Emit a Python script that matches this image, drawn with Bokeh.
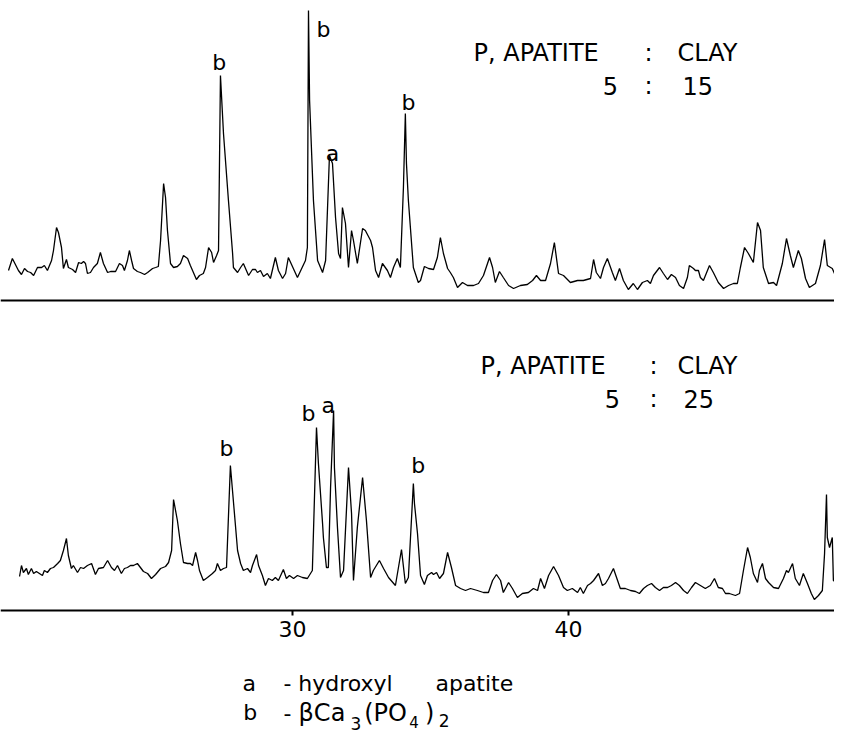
from bokeh.plotting import figure
from bokeh.models import Range1d, LinearAxis, FixedTicker, Span, Label
from bokeh.embed import file_html
from bokeh.resources import INLINE

# ---------------- data (2-theta in degrees, intensity in arbitrary units) ----------------
# Upper pattern: P. apatite : clay = 5 : 15
top_2theta = [19.71, 19.85, 19.96, 20.07, 20.18, 20.29, 20.40, 20.51, 20.62, 20.76, 20.91, 21.01,
              21.12, 21.27, 21.34, 21.45, 21.52, 21.63, 21.70, 21.81, 21.88, 22.03, 22.14, 22.25,
              22.35, 22.43, 22.50, 22.57, 22.68, 22.79, 22.93, 23.04, 23.15, 23.30, 23.41, 23.59,
              23.73, 23.84, 23.91, 24.02, 24.09, 24.17, 24.24, 24.38, 24.49, 24.64, 24.75, 24.93,
              25.04, 25.14, 25.22, 25.33, 25.40, 25.47, 25.58, 25.69, 25.83, 25.94, 26.05, 26.20,
              26.30, 26.41, 26.52, 26.63, 26.77, 26.85, 26.96, 27.07, 27.14, 27.25, 27.32, 27.39,
              27.50, 27.68, 27.83, 27.86, 28.01, 28.12, 28.22, 28.33, 28.41, 28.55, 28.66, 28.73,
              28.84, 28.95, 29.09, 29.20, 29.38, 29.49, 29.64, 29.75, 29.85, 30.18, 30.47, 30.54,
              30.58, 30.62, 30.76, 30.91, 31.09, 31.20, 31.34, 31.45, 31.56, 31.67, 31.74, 31.81,
              31.92, 32.03, 32.14, 32.21, 32.35, 32.54, 32.64, 32.83, 32.90, 33.01, 33.12, 33.26,
              33.44, 33.55, 33.66, 33.80, 33.91, 34.02, 34.09, 34.13, 34.20, 34.38, 34.56, 34.64,
              34.78, 34.93, 35.11, 35.25, 35.36, 35.47, 35.62, 35.72, 35.83, 35.98, 36.16, 36.34,
              36.56, 36.74, 36.92, 37.14, 37.25, 37.35, 37.50, 37.64, 37.83, 38.01, 38.26, 38.51,
              38.70, 38.84, 38.99, 39.17, 39.35, 39.49, 39.64, 39.82, 40.07, 40.33, 40.54, 40.80,
              40.91, 41.01, 41.16, 41.27, 41.41, 41.59, 41.70, 41.85, 41.99, 42.17, 42.35, 42.50,
              42.68, 42.86, 42.97, 43.08, 43.30, 43.44, 43.59, 43.73, 43.88, 44.02, 44.17, 44.31,
              44.38, 44.53, 44.60, 44.71, 44.78, 44.89, 45.11, 45.25, 45.43, 45.62, 45.80, 45.98,
              46.12, 46.23, 46.38, 46.52, 46.70, 46.85, 46.96, 47.06, 47.25, 47.43, 47.54, 47.75,
              47.90, 48.04, 48.15, 48.33, 48.44, 48.59, 48.73, 48.95, 49.13, 49.28, 49.38, 49.56,
              49.67, 49.78, 49.93]
top_counts = [30, 42, 36, 30, 26, 32, 29, 28, 25, 33, 33, 35,
              30, 40, 50, 73, 68, 53, 32, 41, 33, 31, 28, 38,
              37, 39, 37, 27, 28, 33, 37, 48, 37, 28, 29, 29,
              37, 35, 30, 40, 50, 40, 32, 29, 28, 26, 28, 32,
              33, 34, 60, 117, 103, 70, 37, 33, 34, 37, 45, 42,
              35, 28, 21, 25, 27, 33, 53, 48, 38, 45, 50, 225,
              167, 100, 47, 33, 28, 33, 37, 30, 25, 31, 31, 28,
              30, 24, 27, 22, 43, 30, 22, 27, 43, 23, 40, 53,
              290, 200, 100, 40, 28, 40, 145, 137, 83, 47, 42, 93,
              77, 33, 70, 60, 37, 72, 70, 60, 53, 30, 23, 37,
              30, 23, 33, 42, 33, 113, 187, 137, 100, 33, 18, 20,
              34, 32, 31, 43, 63, 47, 32, 28, 23, 13, 18, 15,
              15, 17, 25, 43, 33, 18, 29, 23, 15, 12, 15, 16,
              20, 25, 20, 20, 37, 58, 27, 25, 18, 20, 20, 22,
              41, 28, 22, 33, 42, 28, 20, 32, 20, 11, 17, 11,
              18, 20, 17, 25, 33, 27, 21, 26, 23, 15, 12, 23,
              35, 32, 30, 30, 23, 20, 35, 28, 18, 12, 15, 17,
              17, 33, 53, 47, 38, 78, 70, 33, 17, 18, 15, 37,
              62, 45, 33, 50, 42, 22, 13, 17, 35, 61, 35, 32,
              25, 18, 15]

# Lower pattern: P. apatite : clay = 5 : 25
bottom_2theta = [20.11, 20.18, 20.25, 20.36, 20.43, 20.54, 20.62, 20.72, 20.83, 20.94, 21.01, 21.12,
                 21.23, 21.34, 21.49, 21.59, 21.70, 21.81, 21.88, 21.99, 22.06, 22.21, 22.32, 22.43,
                 22.57, 22.72, 22.86, 22.97, 23.15, 23.30, 23.44, 23.55, 23.66, 23.80, 23.91, 24.02,
                 24.13, 24.24, 24.38, 24.49, 24.60, 24.75, 24.89, 25.04, 25.22, 25.40, 25.51, 25.62,
                 25.69, 25.83, 25.94, 26.05, 26.20, 26.30, 26.38, 26.49, 26.56, 26.63, 26.77, 26.92,
                 27.10, 27.21, 27.28, 27.39, 27.50, 27.61, 27.75, 28.01, 28.12, 28.22, 28.37, 28.48,
                 28.55, 28.70, 28.77, 28.91, 29.02, 29.13, 29.27, 29.38, 29.49, 29.67, 29.78, 29.89,
                 30.04, 30.18, 30.36, 30.54, 30.72, 30.87, 30.94, 31.09, 31.12, 31.23, 31.30, 31.38,
                 31.49, 31.52, 31.63, 31.74, 31.85, 32.03, 32.14, 32.21, 32.35, 32.54, 32.68, 32.83,
                 32.93, 33.15, 33.30, 33.48, 33.73, 33.95, 34.09, 34.20, 34.38, 34.42, 34.53, 34.64,
                 34.78, 34.89, 35.04, 35.11, 35.22, 35.33, 35.47, 35.62, 35.76, 35.91, 36.09, 36.27,
                 36.45, 36.70, 36.92, 37.10, 37.25, 37.39, 37.54, 37.64, 37.83, 37.97, 38.15, 38.33,
                 38.55, 38.73, 38.88, 38.99, 39.13, 39.28, 39.46, 39.64, 39.82, 39.96, 40.14, 40.33,
                 40.43, 40.54, 40.69, 40.80, 40.91, 41.09, 41.23, 41.34, 41.45, 41.63, 41.78, 41.88,
                 42.06, 42.25, 42.43, 42.57, 42.72, 42.86, 43.01, 43.15, 43.30, 43.44, 43.59, 43.73,
                 43.88, 44.02, 44.17, 44.31, 44.46, 44.60, 44.78, 44.96, 45.14, 45.29, 45.43, 45.58,
                 45.69, 45.83, 46.05, 46.20, 46.34, 46.49, 46.59, 46.70, 46.85, 46.92, 47.03, 47.14,
                 47.25, 47.43, 47.61, 47.79, 47.90, 47.97, 48.12, 48.22, 48.37, 48.51, 48.66, 48.80,
                 48.91, 49.06, 49.20, 49.28, 49.35, 49.38, 49.46, 49.56, 49.60, 49.71, 49.78, 49.93]
bottom_counts = [34, 45, 38, 42, 36, 42, 37, 39, 37, 35, 40, 38,
                 42, 43, 47, 50, 60, 72, 55, 42, 45, 38, 43, 42,
                 45, 47, 36, 42, 43, 50, 43, 40, 45, 37, 42, 43,
                 45, 45, 47, 43, 39, 37, 32, 36, 42, 44, 48, 60,
                 111, 90, 67, 48, 47, 47, 45, 58, 50, 40, 30, 33,
                 37, 40, 47, 40, 42, 43, 145, 60, 47, 40, 42, 38,
                 45, 56, 45, 35, 25, 32, 30, 33, 30, 41, 32, 35,
                 32, 35, 33, 32, 40, 183, 147, 87, 73, 43, 43, 123,
                 200, 143, 83, 33, 40, 143, 97, 30, 83, 133, 90, 33,
                 40, 50, 42, 33, 25, 61, 27, 33, 127, 107, 77, 35,
                 26, 35, 38, 36, 38, 32, 37, 58, 43, 25, 22, 20,
                 22, 20, 18, 18, 30, 36, 30, 18, 28, 22, 13, 17,
                 18, 22, 20, 32, 22, 35, 44, 35, 23, 20, 22, 18,
                 23, 17, 25, 27, 30, 37, 25, 27, 32, 42, 30, 22,
                 22, 20, 19, 17, 22, 25, 27, 23, 20, 23, 23, 25,
                 28, 25, 20, 17, 23, 28, 25, 22, 25, 32, 23, 22,
                 17, 17, 15, 17, 40, 63, 53, 37, 28, 40, 47, 32,
                 28, 23, 22, 32, 40, 38, 47, 32, 25, 37, 27, 17,
                 11, 15, 20, 57, 116, 73, 63, 73, 30, 28, 23, 28]

tick_positions = [30, 40]

top_peak_2theta = [27.35, 31.12, 31.45, 34.20]
top_peak_letters = ["b", "b", "a", "b"]
bottom_peak_2theta = [27.61, 30.58, 31.30, 34.56]
bottom_peak_letters = ["b", "b", "a", "b"]

# ---------------- layout constants ----------------
TOP_OFFSET = 310          # vertical separation of the two patterns
FONT = "DejaVu Sans"
FS = "22px"
HS = "24px"

p = figure(width=834, height=734,
           x_range=Range1d(19.42, 49.64), y_range=Range1d(-124, 610),
           x_axis_type=None, y_axis_type=None,
           toolbar_location=None, output_backend="svg", min_border=0)
p.outline_line_color = None
p.background_fill_color = "white"
p.border_fill_color = "white"
p.extra_y_ranges = {"top": Range1d(-124 - TOP_OFFSET, 610 - TOP_OFFSET)}

p.line(top_2theta, top_counts, y_range_name="top", line_color="black", line_width=1.3)
p.line(bottom_2theta, bottom_counts, line_color="black", line_width=1.3)

# baseline of upper pattern
p.add_layout(Span(location=TOP_OFFSET, dimension="width", line_color="black", line_width=2))

# 2-theta axis of the lower pattern
xaxis = LinearAxis(fixed_location=0, ticker=FixedTicker(ticks=tick_positions),
                   axis_line_color="black", axis_line_width=2,
                   major_tick_in=0, major_tick_out=5, major_tick_line_width=2,
                   minor_tick_line_color=None, major_label_standoff=5,
                   major_label_text_font=FONT, major_label_text_font_size="22px",
                   major_label_text_color="black")
p.add_layout(xaxis, "below")

# peak letters
top_letter_heights = [238, 271, 147, 198]
for xp, t, yl in zip(top_peak_2theta, top_peak_letters, top_letter_heights):
    p.add_layout(Label(x=xp, y=yl, text=t, y_range_name="top", text_align="center",
                       text_baseline="alphabetic", text_font=FONT, text_font_size=FS,
                       text_color="black"))
bottom_letter_heights = [162, 197, 205, 145]
for xp, t, yl in zip(bottom_peak_2theta, bottom_peak_letters, bottom_letter_heights):
    p.add_layout(Label(x=xp, y=yl, text=t, text_align="center",
                       text_baseline="alphabetic", text_font=FONT, text_font_size=FS,
                       text_color="black"))


def lab(x, y, text, align="left", size=FS):
    p.add_layout(Label(x=x, y=y, text=text, text_align=align, text_baseline="alphabetic",
                       text_font=FONT, text_font_size=size, text_color="black"))


# headings of the two patterns
lab(36.56, 558, "P, APATITE", size=HS)
lab(42.90, 558, ":", "center", size=HS)
lab(43.95, 558, "CLAY", size=HS)
lab(41.52, 525, "5", "center", size=HS)
lab(42.90, 525, ":", "center", size=HS)
lab(44.13, 525, "15", size=HS)

lab(36.81, 245, "P, APATITE", size=HS)
lab(43.08, 245, ":", "center", size=HS)
lab(43.95, 245, "CLAY", size=HS)
lab(41.59, 212, "5", "center", size=HS)
lab(43.08, 212, ":", "center", size=HS)
lab(44.17, 212, "25", size=HS)

# key
lab(28.19, -73, "a")
lab(29.67, -73, "- hydroxyl")
lab(35.18, -73, "apatite")
lab(28.22, -102, "b")
lab(29.67, -102, "-")
lab(30.22, -102, "βCa", size="24px")
lab(32.10, -113, "3", size="17px")
lab(32.60, -102, "(PO", size="24px")
lab(34.23, -111, "4", size="15px")
lab(34.80, -102, ")", size="24px")
lab(35.30, -110, "2", size="17px")

open("out.html", "w").write(file_html(p, INLINE))
